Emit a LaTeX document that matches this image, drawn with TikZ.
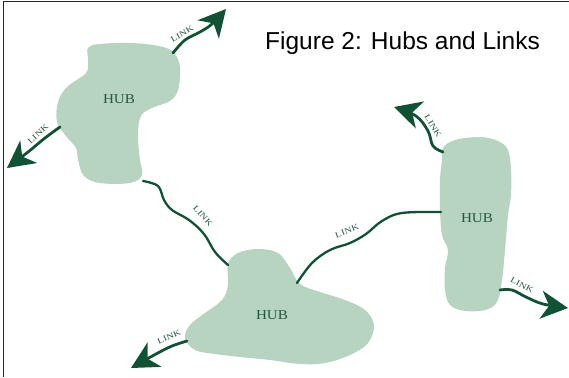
\documentclass[tikz,border=0pt]{standalone}
\usepackage{fontspec}
\setmainfont{Liberation Serif}
\newfontfamily\titlefont{Liberation Sans}
\usetikzlibrary{arrows.meta}
\definecolor{hubfill}{RGB}{183,212,192}
\definecolor{linkgreen}{RGB}{16,82,52}
\definecolor{lblgreen}{RGB}{34,88,62}
\definecolor{framegray}{RGB}{40,40,40}
\tikzset{
  hubshape/.style={fill=hubfill, draw=none},
  hublbl/.style={text=lblgreen, font=\fontsize{13.5}{14}\selectfont, inner sep=0pt},
  linklbl/.style={text=lblgreen, font=\fontsize{8}{8}\selectfont, inner sep=0pt},
  linkline/.style={draw=linkgreen, line width=2.3pt, line cap=round},
  arrowlink/.style={draw=linkgreen, line width=2.8pt, line cap=round,
    -{Stealth[length=27pt,width=28pt,inset=8pt,fill=linkgreen]}},
  frameline/.style={draw=framegray, line width=1.4pt}
}
\begin{document}
\begin{tikzpicture}[x=1pt,y=-1pt]
\useasboundingbox (0,0) rectangle (569,377);
\draw[frameline] (3.5,377) -- (3.5,1.5) -- (569,1.5);

% hubs
\fill[hubshape] plot[smooth cycle, tension=0.6] coordinates {
 (88,48) (100,44) (133,43) (163,47) (175,54) (180,68) (178,90) (170,101) (152,108)
 (141,116) (138,135) (140,160) (142,175) (130,183) (100,183) (84,176) (78,160)
 (76,148) (66,136) (57,122) (58,102) (67,87) (86,73) (88,60)};
\fill[hubshape] plot[smooth cycle, tension=0.6] coordinates {
 (443,148) (455,140) (480,137) (498,141) (508,150) (511,170) (511,195) (508,215)
 (505,250) (502,280) (497,302) (485,310) (465,311) (450,305) (445,290) (445,268)
 (448,250) (442,235) (440,210) (440,180) (442,160)};
\fill[hubshape] plot[smooth cycle, tension=0.6] coordinates {
 (228,264) (238,253) (258,249) (278,253) (290,268) (300,284) (320,292) (345,300)
 (365,310) (374,325) (368,343) (350,355) (325,363) (300,364) (270,360) (240,357)
 (215,354) (195,350) (185,338) (190,325) (205,313) (222,300) (228,285)};

\node[hublbl] (hub1) at (119,99) {\scalebox{1.12}[1]{HUB}};
\node[hublbl] (hub2) at (477,218) {\scalebox{1.12}[1]{HUB}};
\node[hublbl] (hub3) at (272,315) {\scalebox{1.12}[1]{HUB}};

% link end points
\coordinate (h1ne) at (173,53);
\coordinate (h1sw) at (60,127);
\coordinate (h1s) at (143,181);
\coordinate (h3nw) at (228,265);
\coordinate (h3sw) at (187,341);
\coordinate (h3ne) at (297,283);
\coordinate (h2w) at (441,212);
\coordinate (h2nw) at (443,152);
\coordinate (h2se) at (500,290);
\coordinate (t1) at (226,9);
\coordinate (t2) at (7,168);
\coordinate (t3) at (131,368);
\coordinate (t4) at (394,107);
\coordinate (t5) at (568,308);

% links
\draw[arrowlink] plot[smooth, tension=0.6] coordinates {(h1ne) (185,40) (200,32) (212,24) (t1)};
\draw[arrowlink] plot[smooth, tension=0.6] coordinates {(h1sw) (45,138) (28,152) (t2)};
\draw[linkline] plot[smooth, tension=0.6] coordinates {(h1s) (158,186) (164,200) (172,210) (189,220) (204,234) (215,252) (h3nw)};
\draw[arrowlink] plot[smooth, tension=0.6] coordinates {(h3sw) (172,346) (156,354) (t3)};
\draw[linkline] plot[smooth, tension=0.6] coordinates {(h3ne) (312,263) (330,250) (350,243) (366,234) (382,221) (402,213) (h2w)};
\draw[arrowlink] plot[smooth, tension=0.6] coordinates {(h2nw) (433,146) (428,131) (416,116) (t4)};
\draw[arrowlink] plot[smooth, tension=0.6] coordinates {(h2se) (512,290) (526,297) (543,304) (t5)};

% link labels
\node[linklbl, rotate=30] (l1) at (182,34) {\scalebox{1.3}[1]{LINK}};
\node[linklbl, rotate=42] (l2) at (38,134) {\scalebox{1.3}[1]{LINK}};
\node[linklbl, rotate=-48] (l3) at (203,216) {\scalebox{1.3}[1]{LINK}};
\node[linklbl, rotate=25] (l4) at (169,337) {\scalebox{1.3}[1]{LINK}};
\node[linklbl, rotate=22] (l5) at (347,231) {\scalebox{1.3}[1]{LINK}};
\node[linklbl, rotate=-58] (l6) at (433,126) {\scalebox{1.3}[1]{LINK}};
\node[linklbl, rotate=-28] (l7) at (522,285) {\scalebox{1.3}[1]{LINK}};

% title
\node[anchor=base west, inner sep=0pt, font=\titlefont\fontsize{24.5}{27}\selectfont] (title) at (265,50) {Figure 2: Hubs and Links};
\end{tikzpicture}
\end{document}
